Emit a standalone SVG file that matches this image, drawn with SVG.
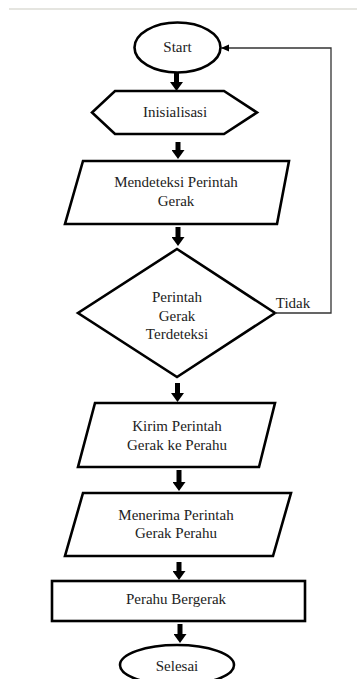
<svg xmlns="http://www.w3.org/2000/svg" width="357" height="679" viewBox="0 0 357 679">
<style>
.shape{fill:#fff;stroke:#000;stroke-width:2.6;stroke-linejoin:miter}
.t{font-family:"Liberation Serif","Times New Roman",serif;font-size:15px;fill:#222;text-anchor:middle}
.flow{stroke:#000;stroke-width:5;fill:none}
.back{stroke:#333;stroke-width:1.3;fill:none}
</style>
<defs>
<marker id="bh" markerUnits="userSpaceOnUse" markerWidth="9" markerHeight="13" refX="1" refY="6.5" orient="auto">
<path d="M0,0 L9,6.5 L0,13 z" fill="#000"/>
</marker>
<marker id="sh" markerUnits="userSpaceOnUse" markerWidth="8" markerHeight="8" refX="8" refY="4" orient="auto">
<path d="M0,0.5 L8,4 L0,7.5 z" fill="#000"/>
</marker>
</defs>
<rect width="357" height="679" fill="#fff"/>
<line x1="9" y1="9" x2="357" y2="9" stroke="#dcdcd6" stroke-width="1.5"/>

<g id="start">
<ellipse class="shape" cx="177.5" cy="47.5" rx="43" ry="25"/>
<text class="t" x="177.5" y="52">Start</text>
</g>
<g id="inisialisasi">
<polygon class="shape" points="115,91 224,91 257,112.5 224,134 115,134 92,112.5"/>
<text class="t" x="175" y="117">Inisialisasi</text>
</g>
<g id="mendeteksi">
<polygon class="shape" points="83,161 289,161 277,224 65,224"/>
<text class="t" x="176" y="187">Mendeteksi Perintah</text>
<text class="t" x="176" y="206">Gerak</text>
</g>
<g id="keputusan">
<polygon class="shape" points="177,249 275,313 177,377 78,313"/>
<text class="t" x="177" y="302">Perintah</text>
<text class="t" x="177" y="321">Gerak</text>
<text class="t" x="177" y="339">Terdeteksi</text>
</g>
<g id="kirim">
<polygon class="shape" points="95,403 275,403 259,467 78,467"/>
<text class="t" x="177" y="431">Kirim Perintah</text>
<text class="t" x="177" y="450">Gerak ke Perahu</text>
</g>
<g id="menerima">
<polygon class="shape" points="83,493 291,493 273,556 65,556"/>
<text class="t" x="176" y="520">Menerima Perintah</text>
<text class="t" x="176" y="538">Gerak Perahu</text>
</g>
<g id="bergerak">
<rect class="shape" x="52" y="581" width="253" height="40"/>
<text class="t" x="176" y="604">Perahu Bergerak</text>
</g>
<g id="selesai">
<ellipse class="shape" cx="177" cy="665" rx="57" ry="20"/>
<text class="t" x="177" y="671">Selesai</text>
</g>

<g id="connectors">
<line class="flow" x1="176.5" y1="73" x2="176.5" y2="83" marker-end="url(#bh)"/>
<line class="flow" x1="178" y1="142" x2="178" y2="151" marker-end="url(#bh)"/>
<line class="flow" x1="178" y1="227" x2="178" y2="238" marker-end="url(#bh)"/>
<line class="flow" x1="177.5" y1="383" x2="177.5" y2="394" marker-end="url(#bh)"/>
<line class="flow" x1="179" y1="470" x2="179" y2="483" marker-end="url(#bh)"/>
<line class="flow" x1="179" y1="562" x2="179" y2="572" marker-end="url(#bh)"/>
<line class="flow" x1="180" y1="624" x2="180" y2="635" marker-end="url(#bh)"/>
<polyline class="back" points="275,313 331,313 331,48 221,48" marker-end="url(#sh)"/>
<text class="t" x="293" y="308">Tidak</text>
</g>
</svg>
